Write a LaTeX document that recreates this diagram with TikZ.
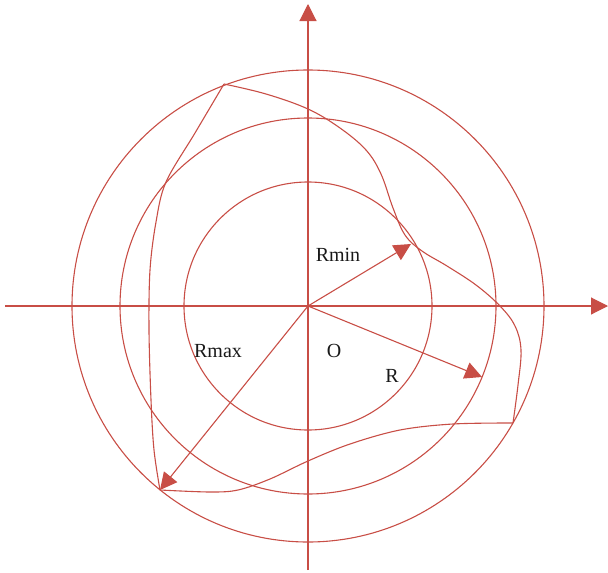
\documentclass[tikz,border=0pt]{standalone}
\usepackage{fontspec}
\setmainfont{Liberation Serif}
\usetikzlibrary{arrows.meta}
\definecolor{lred}{RGB}{200,78,70}
\begin{document}
\begin{tikzpicture}[x=1pt,y=-1pt,
  ln/.style={draw=lred, line width=1.1pt},
  arr/.style={ln, -{Triangle[length=17pt,width=17pt]}},
  lbl/.style={font=\fontsize{20}{22}\selectfont, text=black!90}]
\useasboundingbox (0,0) rectangle (608,573);
\coordinate (O) at (308,306);
% axes
\coordinate (xl) at (5,306);
\coordinate (xr) at (608,306);
\coordinate (yb) at (308,570);
\coordinate (yt) at (308,4);
\draw[arr] (xl) -- (xr);
\draw[arr] (yb) -- (yt);
% circles
\draw[ln] (O) circle (124);
\draw[ln] (O) circle (188);
\draw[ln] (O) circle (236);
% closed curve
\coordinate (A) at (224,84);
\coordinate (B) at (160,490);
\coordinate (C) at (513,423);
\draw[ln] plot[smooth, tension=0.6] coordinates {(A) (266,94) (308,109) (340,128) (366,150) (381,174) (393,208) (405,235) (422,251) (447,266) (476,285) (500,306) (515,326) (521,350) (518,385) (C)};
\draw[ln] plot[smooth, tension=0.55] coordinates {(C) (453,424) (400,430) (350,444) (308,461) (270,479) (238,490) (210,492) (B)};
\draw[ln] plot[smooth, tension=0.55] coordinates {(B) (154,450) (151,400) (149,330) (150,270) (156,222) (166,182) (195,133) (A)};
% radius arrows
\coordinate (pmin) at (411,244);
\coordinate (pr) at (482,377);
\draw[arr] (O) -- (pmin);
\draw[arr] (O) -- (pr);
\draw[arr] (O) -- (B);
% labels
\node[lbl] (lmin) at (338,255) {Rmin};
\node[lbl] (lmax) at (218,351) {Rmax};
\node[lbl] (lo) at (334,351) {O};
\node[lbl] (lr) at (392,376) {R};
\end{tikzpicture}
\end{document}
